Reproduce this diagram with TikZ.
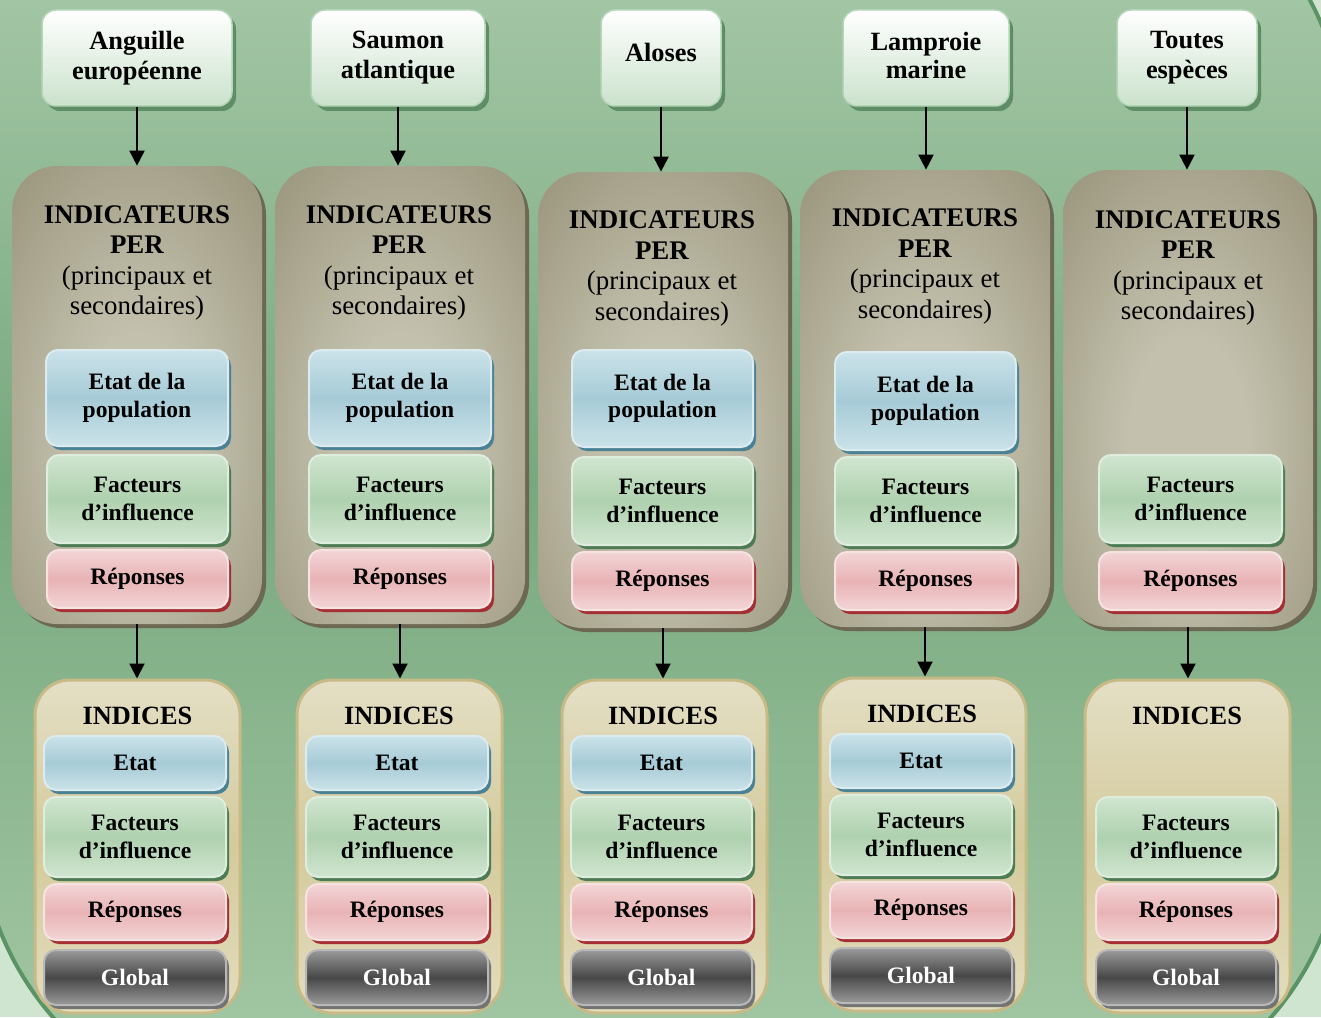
\documentclass[tikz,border=0pt]{standalone}
\usepackage{fontspec}
\setmainfont{Liberation Serif}
\usetikzlibrary{arrows.meta,shadows}

% one drawing unit
\newdimen\pxu \pxu=0.02cm

\definecolor{bgout}{HTML}{CFE5D0}
\definecolor{bgtop}{HTML}{B0CFB0}
\definecolor{bgmid}{HTML}{78A87E}
\definecolor{bgbot}{HTML}{A8CBA8}
\definecolor{bgedge}{HTML}{5A9465}
\definecolor{capTop}{HTML}{FFFFFF}
\definecolor{capBot}{HTML}{CBE2CC}
\definecolor{capRim}{HTML}{B5D5B7}
\definecolor{capShadow}{HTML}{5F8D65}
\definecolor{perdark}{HTML}{948E74}
\definecolor{perlight}{HTML}{C3C1AE}
\definecolor{perShadow}{HTML}{6C6853}
\definecolor{blueRim}{HTML}{CBE2E9}
\definecolor{blueMid}{HTML}{A6CBD6}
\definecolor{blueShadow}{HTML}{4B8195}
\definecolor{greenRim}{HTML}{D0E5D0}
\definecolor{greenMid}{HTML}{AFD1AF}
\definecolor{greenShadow}{HTML}{4D7B53}
\definecolor{pinkRim}{HTML}{F3D5D6}
\definecolor{pinkMid}{HTML}{E8B3B5}
\definecolor{pinkShadow}{HTML}{A52E33}
\definecolor{greyRim}{HTML}{9A9A9A}
\definecolor{greyMid}{HTML}{474747}
\definecolor{greyShadow}{HTML}{737373}
\definecolor{indTop}{HTML}{E4DFC5}
\definecolor{indMid}{HTML}{D4CA9C}
\definecolor{indBot}{HTML}{E3DDBE}
\definecolor{indRim}{HTML}{C8BA87}

\pgfdeclareradialshading{perglow}{\pgfpoint{0bp}{-6bp}}{color(0bp)=(perlight); color(12bp)=(perlight); color(42bp)=(perdark); color(100bp)=(perdark)}

% box node from its corners: style, name, x1, y1, x2, y2, text
\newcommand\placebox[7]{%
  \node[#1, minimum width={(#5-#3)*0.02cm}, minimum height={(#6-#4)*0.02cm}]
    (#2) at ({(#3+#5)/2},{(#4+#6)/2}) {#7};}
% lift a label inside its box without changing the box
\newcommand\lift[2]{\raisebox{#1}[\height][\depth]{#2}}

\tikzset{
  box/.style={rectangle, inner sep=0pt, align=center,
    font=\bfseries\fontsize{13.4}{15.6}\selectfont},
  capbox/.style={box, rounded corners=14\pxu, draw=capRim, line width=1.5\pxu,
    top color=capTop, bottom color=capBot,
    font=\bfseries\fontsize{15}{17}\selectfont,
    general shadow={fill=capShadow, shadow xshift=4\pxu, shadow yshift=-5\pxu}},
  perbox/.style={box, rounded corners=45\pxu, shade, shading=perglow,
    general shadow={fill=perShadow, shadow xshift=4\pxu, shadow yshift=-4\pxu}},
  pertitle/.style={inner sep=0pt, align=center, font=\fontsize{15.3}{17.4}\selectfont},
  indtitle/.style={inner sep=0pt, font=\bfseries\fontsize{15}{17}\selectfont},
  glass/.style n args={3}{box, rounded corners=12\pxu, draw=#1!70!white, line width=2\pxu,
    top color=#1, bottom color=#1, middle color=#2,
    general shadow={fill=#3, shadow xshift=3\pxu, shadow yshift=-4\pxu}},
  etatbox/.style={glass={blueRim}{blueMid}{blueShadow}},
  factbox/.style={glass={greenRim}{greenMid}{greenShadow}},
  repbox/.style={glass={pinkRim}{pinkMid}{pinkShadow}},
  globbox/.style={glass={greyRim}{greyMid}{greyShadow}, text=white},
  indbox/.style={rectangle, inner sep=0pt, rounded corners=35\pxu, draw=indRim, line width=3\pxu,
    top color=indTop, bottom color=indBot, middle color=indMid},
  conn/.style={line width=0.04cm, -{Triangle[width=0.3cm,length=0.3cm]}}
}

\begin{document}
\begin{tikzpicture}[x=0.02cm, y=-0.02cm]
\useasboundingbox (0,0) rectangle (1321,1017);
\clip (0,0) rectangle (1321,1017);

% background panel
\fill[bgout] (0,0) rectangle (1321,1017);
\path[draw=bgedge, line width=4\pxu, top color=bgtop, bottom color=bgbot, middle color=bgmid]
  (-21,-159) -- (1045,-159) arc[start angle=-90, end angle=0, radius=300]
  -- (1345,820) arc[start angle=0, end angle=90, radius=300]
  -- (279,1120) arc[start angle=90, end angle=180, radius=300] -- cycle;

% ---------- Anguille européenne ----------
\placebox{capbox}{cap1}{42}{10}{232}{106}{Anguille\\européenne}
\placebox{perbox}{per1}{12}{166}{262}{624}{}
\node[pertitle] (pt1) at (137,263) {\textbf{INDICATEURS}\\\textbf{PER}\\(principaux et\\secondaires)};
\placebox{etatbox}{pe1}{46}{350}{228}{446}{Etat de la\\population}
\placebox{factbox}{pf1}{47}{455}{228}{543}{Facteurs\\d’influence}
\placebox{repbox}{pr1}{47}{550}{228}{608}{Réponses}
\placebox{indbox}{ind1}{35}{680}{240}{1013}{}
\node[indtitle] (it1) at (137.5,716) {INDICES};
\placebox{etatbox}{ie1}{44}{736}{226}{790}{Etat}
\placebox{factbox}{if1}{44}{797}{226}{877}{Facteurs\\d’influence}
\placebox{repbox}{ir1}{44}{884}{226}{940}{Réponses}
\placebox{globbox}{ig1}{44}{950}{226}{1005}{Global}

% ---------- Saumon atlantique ----------
\placebox{capbox}{cap2}{311}{10}{485}{106}{Saumon\\atlantique}
\placebox{perbox}{per2}{275}{166}{525}{624}{}
\node[pertitle] (pt2) at (399,263) {\textbf{INDICATEURS}\\\textbf{PER}\\(principaux et\\secondaires)};
\placebox{etatbox}{pe2}{309}{350}{491}{446}{Etat de la\\population}
\placebox{factbox}{pf2}{309}{455}{491}{543}{Facteurs\\d’influence}
\placebox{repbox}{pr2}{309}{550}{491}{608}{Réponses}
\placebox{indbox}{ind2}{297}{680}{502}{1013}{}
\node[indtitle] (it2) at (399,716) {INDICES};
\placebox{etatbox}{ie2}{306}{736}{488}{790}{Etat}
\placebox{factbox}{if2}{306}{797}{488}{877}{Facteurs\\d’influence}
\placebox{repbox}{ir2}{306}{884}{488}{940}{Réponses}
\placebox{globbox}{ig2}{306}{950}{488}{1005}{Global}

% ---------- Aloses ----------
\placebox{capbox}{cap3}{601}{10}{721}{106}{\lift{3.2pt}{Aloses}}
\placebox{perbox}{per3}{538}{172}{788}{628}{}
\node[pertitle] (pt3) at (662,268.5) {\textbf{INDICATEURS}\\\textbf{PER}\\(principaux et\\secondaires)};
\placebox{etatbox}{pe3}{572}{350}{753}{447}{Etat de la\\population}
\placebox{factbox}{pf3}{572}{457}{753}{545}{Facteurs\\d’influence}
\placebox{repbox}{pr3}{572}{552}{753}{610}{Réponses}
\placebox{indbox}{ind3}{562}{680}{767}{1013}{}
\node[indtitle] (it3) at (663,716) {INDICES};
\placebox{etatbox}{ie3}{571}{736}{752}{790}{Etat}
\placebox{factbox}{if3}{571}{797}{752}{877}{Facteurs\\d’influence}
\placebox{repbox}{ir3}{571}{884}{752}{940}{Réponses}
\placebox{globbox}{ig3}{571}{950}{752}{1005}{Global}

% ---------- Lamproie marine ----------
\placebox{capbox}{cap4}{843}{10}{1009}{106}{\lift{1.5pt}{\shortstack{Lamproie\\[-0.4pt]marine}}}
\placebox{perbox}{per4}{800}{170}{1050}{627}{}
\node[pertitle] (pt4) at (925,266.5) {\textbf{INDICATEURS}\\\textbf{PER}\\(principaux et\\secondaires)};
\placebox{etatbox}{pe4}{835}{352}{1016}{450}{Etat de la\\population}
\placebox{factbox}{pf4}{835}{457}{1016}{545}{Facteurs\\d’influence}
\placebox{repbox}{pr4}{835}{552}{1016}{610}{Réponses}
\placebox{indbox}{ind4}{820}{678}{1026}{1011}{}
\node[indtitle] (it4) at (922,714) {INDICES};
\placebox{etatbox}{ie4}{830}{734}{1012}{788}{Etat}
\placebox{factbox}{if4}{830}{795}{1012}{875}{Facteurs\\d’influence}
\placebox{repbox}{ir4}{830}{882}{1012}{938}{Réponses}
\placebox{globbox}{ig4}{830}{948}{1012}{1003}{Global}

% ---------- Toutes espèces ----------
\placebox{capbox}{cap5}{1117}{10}{1257}{106}{Toutes\\espèces}
\placebox{perbox}{per5}{1063}{170}{1313}{627}{}
\node[pertitle] (pt5) at (1188,268) {\textbf{INDICATEURS}\\\textbf{PER}\\(principaux et\\secondaires)};
\placebox{factbox}{pf5}{1099}{455}{1282}{543}{Facteurs\\d’influence}
\placebox{repbox}{pr5}{1099}{552}{1282}{610}{Réponses}
\placebox{indbox}{ind5}{1085}{680}{1290}{1013}{}
\node[indtitle] (it5) at (1187,716) {INDICES};
\placebox{factbox}{if5}{1096}{797}{1276}{877}{Facteurs\\d’influence}
\placebox{repbox}{ir5}{1096}{884}{1276}{940}{Réponses}
\placebox{globbox}{ig5}{1096}{950}{1276}{1005}{Global}

% connectors
\foreach \i in {1,...,5}{
  \draw[conn] (cap\i.south) -- (cap\i.south |- per\i.north);
  \draw[conn] (per\i.south) -- (per\i.south |- ind\i.north);
}
\end{tikzpicture}
\end{document}
